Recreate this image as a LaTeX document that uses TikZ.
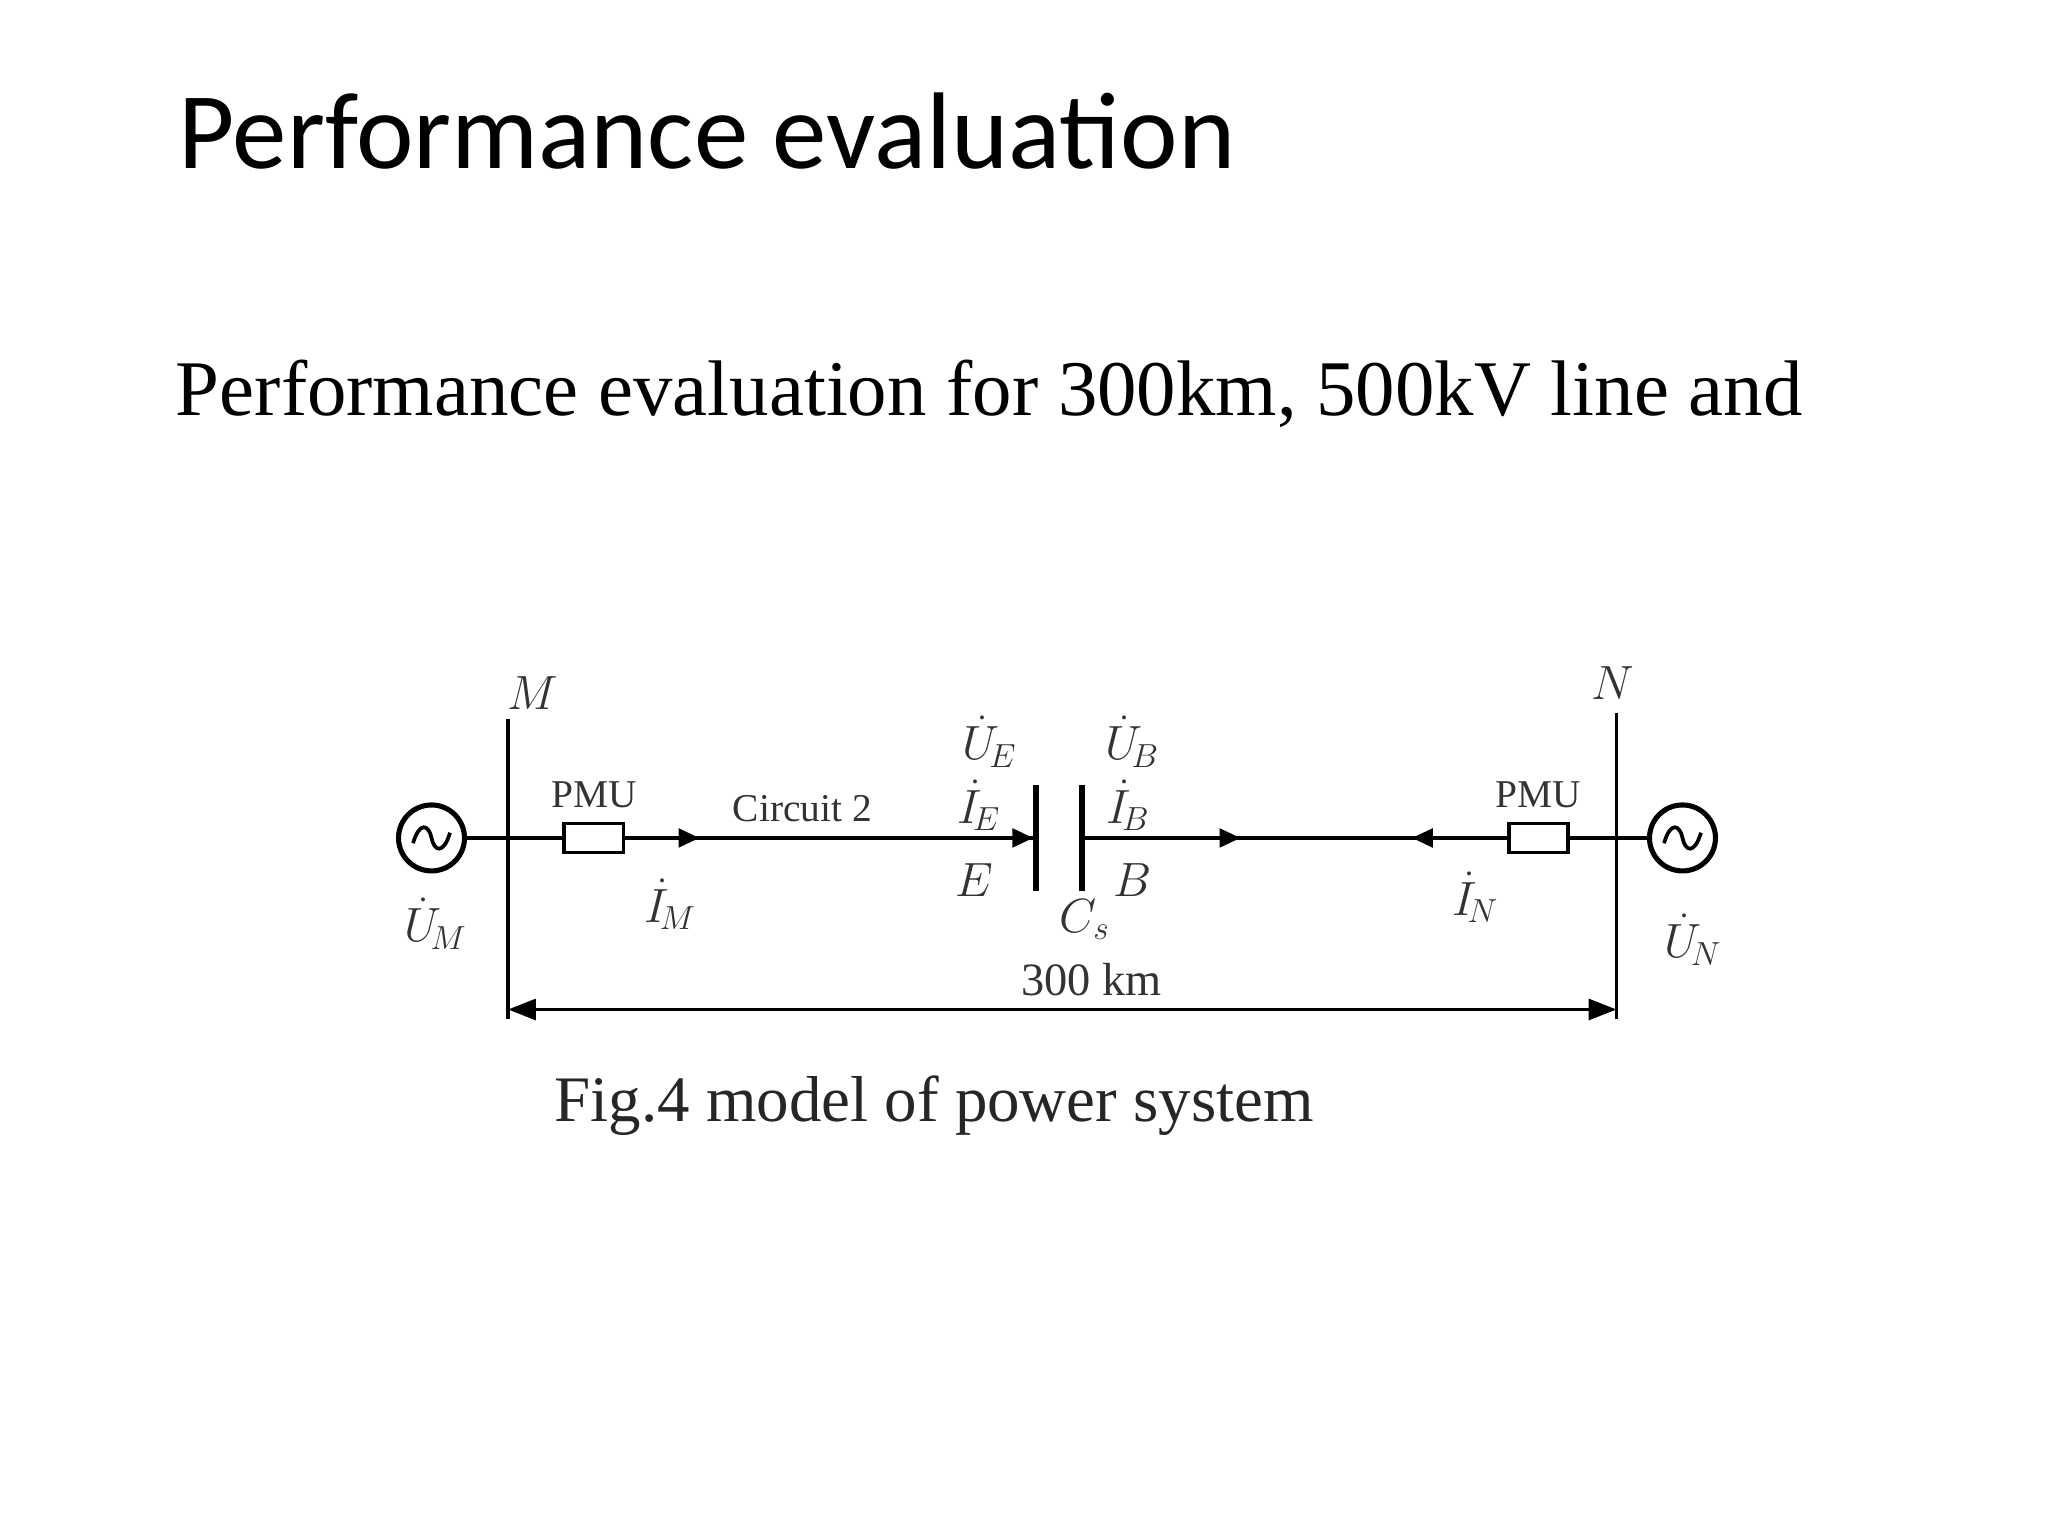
\documentclass[tikz,border=0pt]{standalone}
\usepackage{fontspec}
\setmainfont{Liberation Serif}
\newfontfamily\titlefont{Carlito}
\usetikzlibrary{arrows.meta}
\begin{document}
\begin{tikzpicture}[x=0.02cm,y=-0.02cm,
  wire/.style={line width=1.6pt},
  pmubox/.style={draw,line width=1.6pt,minimum width=0.9cm,minimum height=0.44cm,inner sep=0pt,fill=white},
  src/.style={draw,circle,line width=2.2pt,minimum size=1.0cm,inner sep=0pt},
  lbl/.style={font=\fontsize{20}{22}\selectfont,text=black!80},
  dlbl/.style={font=\fontsize{17}{19}\selectfont,text=black!80},
  arr/.style={-{Triangle[length=9pt,width=8pt]},line width=1.6pt}]
\useasboundingbox (0,0) rectangle (1552,1164);
\node[anchor=base west,inner sep=0,font=\titlefont\fontsize{47}{50}\selectfont] (title) at (135,128) {Performance evaluation};
\node[anchor=base west,inner sep=0,font=\fontsize{34}{38}\selectfont] (sub) at (133,315) {Performance evaluation for 300km, 500kV line and};
% buses
\coordinate (Mt) at (385,545); \coordinate (Mb) at (385,772);
\coordinate (Nt) at (1225,540); \coordinate (Nb) at (1225,772);
\draw[line width=1.4pt] (Mt) -- (Mb);
\draw[line width=1.4pt] (Nt) -- (Nb);
\node[src] (S1) at (327,635) {};
\node[src] (S2) at (1275,635) {};
\draw[line width=1.6pt] (313,639) .. controls (318,622) and (325,625) .. (327,635) .. controls (329,645) and (336,648) .. (341,631);
\draw[line width=1.6pt] (1261,639) .. controls (1266,622) and (1273,625) .. (1275,635) .. controls (1277,645) and (1284,648) .. (1289,631);
\coordinate (cE) at (785,635); \coordinate (cB) at (820,635);
\draw[wire] (S1.east) -- (cE);
\draw[wire] (cB) -- (S2.west);
\draw[line width=2.4pt] (785,595) -- (785,675);
\draw[line width=2.4pt] (820,595) -- (820,675);
\node[pmubox] (P1) at (450,635) {};
\node[pmubox] (P2) at (1166,635) {};
\coordinate (a1s) at (500,635); \coordinate (a1e) at (530,635);
\draw[arr] (a1s) -- (a1e);
\draw[arr] (750,635) -- (783,635);
\draw[arr] (910,635) -- (940,635);
\draw[arr] (1100,635) -- (1070,635);
\draw[{Triangle[length=12pt,width=9pt]}-{Triangle[length=12pt,width=9pt]},line width=1.4pt] (Mb|-0,765) -- (Nb|-0,765);
% labels
\node[lbl,font=\itshape\fontsize{22}{24}\selectfont] at (404,525) {$M$};
\node[lbl,font=\itshape\fontsize{22}{24}\selectfont] at (1222,518) {$N$};
\node[dlbl] at (450,602) {PMU};
\node[dlbl] at (1166,602) {PMU};
\node[dlbl] at (608,613) {Circuit 2};
\node[lbl] at (330,700) {$\dot U_{\!M}$};
\node[lbl] at (1283,712) {$\dot U_{\!N}$};
\node[lbl] at (508,685) {$\dot I_{\!M}$};
\node[lbl] at (1118,680) {$\dot I_{\!N}$};
\node[lbl] at (750,562) {$\dot U_{\!E}$};
\node[lbl] at (858,562) {$\dot U_{\!B}$};
\node[lbl] at (742,610) {$\dot I_{\!E}$};
\node[lbl] at (855,610) {$\dot I_{\!B}$};
\node[lbl] at (738,667) {$E$};
\node[lbl] at (858,667) {$B$};
\node[lbl] at (822,697) {$C_s$};
\node[dlbl,font=\fontsize{20}{22}\selectfont] at (827,742) {300 km};
\node[font=\fontsize{28}{30}\selectfont,text=black!85] (cap) at (708,838) {Fig.4 model of power system};
\end{tikzpicture}
\end{document}
